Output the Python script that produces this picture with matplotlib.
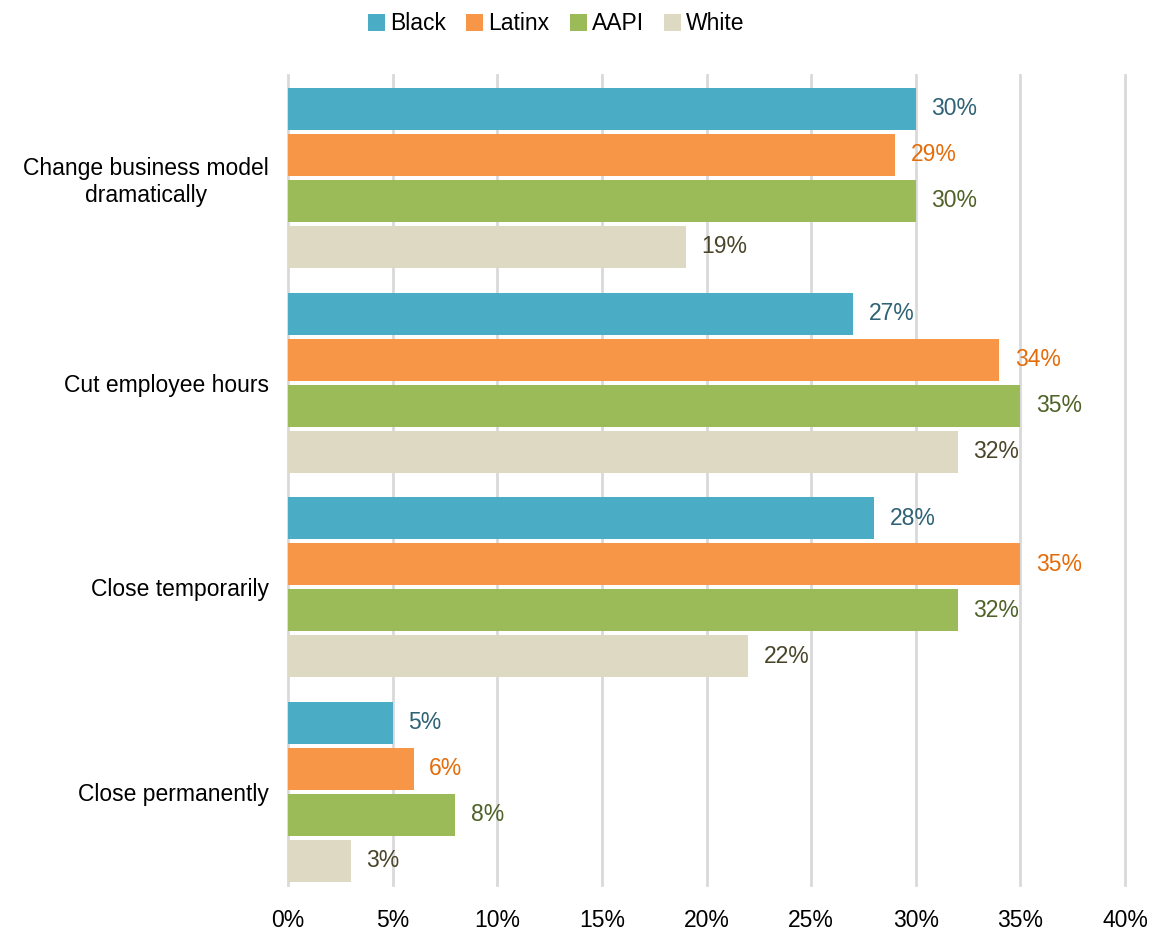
import matplotlib.pyplot as plt
import numpy as np

plt.rcParams['font.family'] = ['Liberation Sans', 'DejaVu Sans']

categories = ['Change business model\ndramatically', 'Cut employee hours',
              'Close temporarily', 'Close permanently']
groups = ['Black', 'Latinx', 'AAPI', 'White']
black = [30, 27, 28, 5]
latinx = [29, 34, 35, 6]
aapi = [30, 35, 32, 8]
white = [19, 32, 22, 3]
xticks = [0, 5, 10, 15, 20, 25, 30, 35, 40]

series = [black, latinx, aapi, white]
colors = ['#4BACC6', '#F79646', '#9BBB59', '#DDD9C3']
label_colors = ['#2E6275', '#E46C0A', '#4F6228', '#4A452A']
fs = 16.5

fig = plt.figure(figsize=(11.54, 9.30), dpi=100)
ax = fig.add_axes([0.2496, 0.0484, 0.7253, 0.871])

step = 0.2248
height = 0.205
y = np.arange(len(categories))
for k, (vals, name) in enumerate(zip(series, groups)):
    pos = y + (k - 1.5) * step
    ax.barh(pos, vals, height=height, color=colors[k], label=name, zorder=3)
    for p, v in zip(pos, vals):
        ax.text(v + 0.75, p, f'{v}%', va='center', ha='left',
                fontsize=fs, color=label_colors[k], zorder=4)

ax.set_ylim(3.455, -0.503)
ax.set_xlim(0, 40)
ax.set_xticks(xticks)
ax.set_xticklabels([f'{t}%' for t in xticks], fontsize=fs)
ax.set_yticks(y)
ax.set_yticklabels(categories, fontsize=fs, multialignment='center')
ax.tick_params(axis='x', length=0, pad=17)
ax.tick_params(axis='y', length=0, pad=14)
ax.grid(axis='x', color='#D9D9D9', linewidth=2, zorder=0)
for gl in ax.get_xgridlines():
    gl.set_clip_on(False)
for s in ax.spines.values():
    s.set_visible(False)

fig.legend(loc='upper center', bbox_to_anchor=(0.482, 1.009), ncol=4, frameon=False,
           fontsize=fs, handlelength=0.75, handleheight=0.75, handletextpad=0.2,
           columnspacing=0.9)

fig.savefig('out.png', dpi=100)
